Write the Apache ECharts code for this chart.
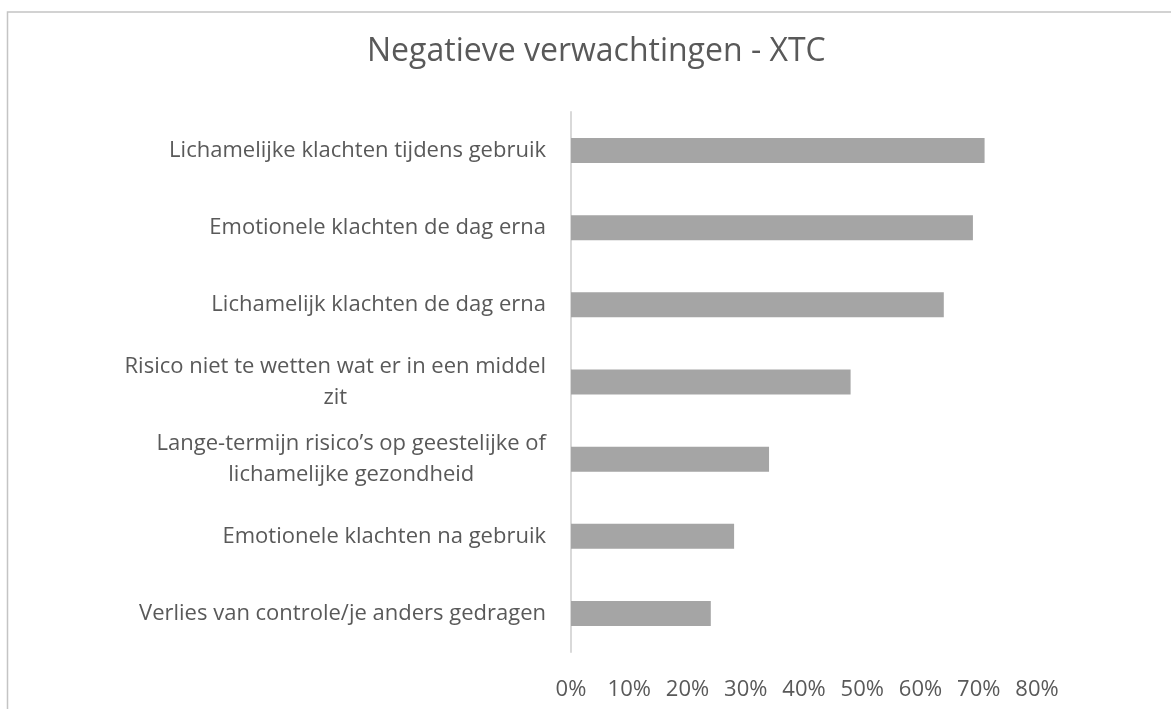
<!DOCTYPE html>
<html>
<head>
<meta charset="utf-8">
<script src="https://cdn.jsdelivr.net/npm/echarts@6/dist/echarts.min.js"></script>
<style>
  html, body { margin: 0; padding: 0; background: #fff; }
  #chart { width: 1171px; height: 709px; }
</style>
</head>
<body>
<div id="chart"></div>
<script>
// categories from top to bottom as shown
const categories = [
  'Lichamelijke klachten tijdens gebruik',
  'Emotionele klachten de dag erna',
  'Lichamelijk klachten de dag erna',
  'Risico niet te wetten wat er in een middel\nzit',
  'Lange-termijn risico’s op geestelijke of\nlichamelijke gezondheid',
  'Emotionele klachten na gebruik',
  'Verlies van controle/je anders gedragen'
]
// share in percent
const values = [71, 69, 64, 48, 34, 28, 24]
const xTicks = [0, 10, 20, 30, 40, 50, 60, 70, 80]

const textColor = '#595959'
const font = 'Open Sans'

const chart = echarts.init(document.getElementById('chart'), null, {renderer: 'canvas'})

chart.setOption({
  animation: false,
  backgroundColor: '#fff',
  title: {
    text: 'Negatieve verwachtingen - XTC',
    left: 362,
    top: 31,
    textStyle: {
      fontFamily: font,
      fontSize: 32,
      fontWeight: 'normal',
      color: textColor
    }
  },
  graphic: [{
    type: 'rect',
    shape: {x: 7.5, y: 12, width: 1400, height: 900},
    style: {fill: 'none', stroke: '#c4c4c4', lineWidth: 1.5},
    silent: true
  }],
  grid: {
    left: 571,
    right: 134,
    top: 112,
    bottom: 57,
    containLabel: false
  },
  xAxis: {
    type: 'value',
    min: xTicks[0],
    max: xTicks[xTicks.length - 1],
    interval: 10,
    axisLine: {show: false},
    axisTick: {show: false},
    splitLine: {show: false},
    axisLabel: {
      formatter: v => v + '%',
      fontFamily: font,
      fontSize: 22,
      color: textColor,
      margin: 27
    }
  },
  yAxis: {
    type: 'category',
    inverse: true,
    data: categories,
    axisLine: {show: true, lineStyle: {color: '#d9d9d9', width: 2}},
    axisTick: {show: false},
    axisLabel: {
      margin: 25,
      color: textColor,
      fontFamily: font,
      fontSize: 22,
      formatter: v => v.split('\n').map(s => '{c|' + s + '}').join('\n'),
      rich: {
        c: {
          align: 'center',
          fontFamily: font,
          fontSize: 22,
          color: textColor,
          lineHeight: 31
        }
      }
    }
  },
  series: [{
    type: 'bar',
    data: values,
    barWidth: 25,
    itemStyle: {color: '#a5a5a5'},
    emphasis: {disabled: true}
  }]
})
</script>
</body>
</html>
